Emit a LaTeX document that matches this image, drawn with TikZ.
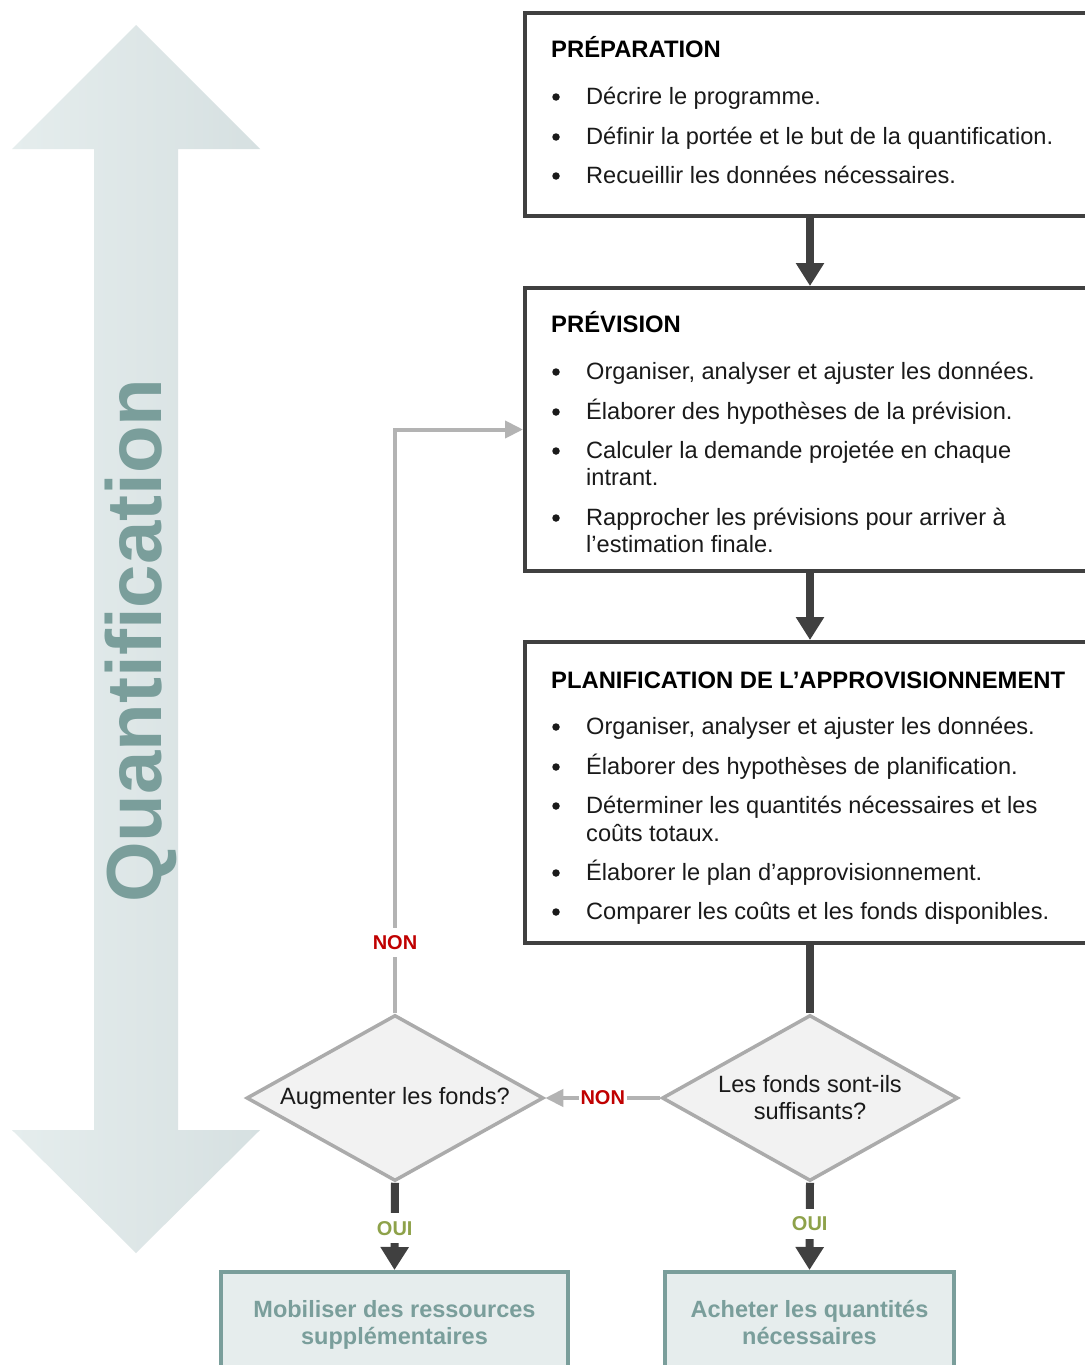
\documentclass[tikz,border=0pt]{standalone}
\usepackage{fontspec}
\setmainfont{Liberation Sans}
\usetikzlibrary{arrows.meta,shapes.geometric}
\definecolor{boxline}{HTML}{404040}
\definecolor{teal1}{HTML}{7A9E9B}
\definecolor{tealfill}{HTML}{E6EDED}
\definecolor{arrowL}{HTML}{E5EDED}
\definecolor{arrowR}{HTML}{D6E0E1}
\definecolor{grayln}{HTML}{B3B3B3}
\definecolor{dmdline}{HTML}{ABABAB}
\definecolor{dmdfill}{HTML}{F2F2F2}
\definecolor{nonred}{HTML}{C00000}
\definecolor{ouigreen}{HTML}{8EA24A}
\definecolor{txt}{HTML}{1A1A1A}
\newcommand\bitem[3]{\node[bul] (#1b) at (556,#2-7.5) {}; \node[itemtxt] (#1) at (586,#2) {#3};}
\begin{document}
\begin{tikzpicture}[x=1pt,y=-1pt,
  stepbox/.style={draw=boxline, line width=4pt, rectangle, inner sep=0pt, minimum width=570pt},
  titletxt/.style={anchor=base west, inner sep=0pt, font=\fontsize{23.8}{27}\selectfont\bfseries, text=black},
  itemtxt/.style={anchor=base west, inner sep=0pt, font=\fontsize{23.6}{27}\selectfont, text=txt},
  bul/.style={circle, fill=txt, minimum size=7.5pt, inner sep=0pt},
  decision/.style={diamond, shape aspect=1.79, draw=dmdline, fill=dmdfill, line width=3.5pt, minimum width=297pt, minimum height=166pt, inner sep=0pt, align=center, font=\fontsize{23.6}{27}\selectfont, text=txt},
  outbox/.style={rectangle, draw=teal1, fill=tealfill, line width=4pt, inner sep=0pt, align=center, font=\fontsize{23.5}{27}\selectfont\bfseries, text=teal1},
  flow/.style={draw=boxline, line width=8pt, -{Triangle[length=23pt,width=27pt]}},
  flownoarrow/.style={draw=boxline, line width=8pt},
  backline/.style={draw=grayln, line width=4pt, -{Triangle[length=18pt,width=17pt]}},
  nonlbl/.style={fill=white, inner xsep=2pt, inner ysep=7pt, font=\fontsize{20}{24}\selectfont\bfseries, text=nonred},
  ouilbl/.style={fill=white, inner xsep=2pt, inner ysep=8pt, font=\fontsize{20}{24}\selectfont\bfseries, text=ouigreen}]
\fill[white] (0,0) rectangle (1084,1365);
\useasboundingbox (0,0) rectangle (1084,1365);

% big double arrow
\shade[left color=arrowL, right color=arrowR]
  (136,25) -- (260,149) -- (178,149) -- (178,1130) -- (260,1130) -- (136,1253)
  -- (12,1130) -- (94,1130) -- (94,149) -- (12,149) -- cycle;
\node[rotate=90, anchor=base west, inner sep=0pt, font=\fontsize{78}{80}\selectfont\bfseries, text=teal1] (quant) at (161,903) {Quantification};

% PREPARATION
\node[stepbox, minimum height=203pt] (prep) at (810,114.5) {};
\node[titletxt] (prepT) at (551,57) {PRÉPARATION};
\bitem{pa}{104.5}{Décrire le programme.}
\bitem{pb}{144.5}{Définir la portée et le but de la quantification.}
\bitem{pc}{183.5}{Recueillir les données nécessaires.}

% PREVISION
\node[stepbox, minimum height=283pt] (prev) at (810,429.5) {};
\node[titletxt] (prevT) at (551,332) {PRÉVISION};
\bitem{va}{379.5}{Organiser, analyser et ajuster les données.}
\bitem{vb}{419.5}{Élaborer des hypothèses de la prévision.}
\bitem{vc}{458.5}{Calculer la demande projetée en chaque}
\node[itemtxt] (vc2) at (586,485.5) {intrant.};
\bitem{vd}{525.5}{Rapprocher les prévisions pour arriver à}
\node[itemtxt] (vd2) at (586,552.5) {l’estimation finale.};

% PLANIFICATION
\node[stepbox, minimum height=301pt] (plan) at (810,792.5) {};
\node[titletxt] (planT) at (551,688) {PLANIFICATION DE L’APPROVISIONNEMENT};
\bitem{la}{734.5}{Organiser, analyser et ajuster les données.}
\bitem{lb}{774.5}{Élaborer des hypothèses de planification.}
\bitem{lc}{813.5}{Déterminer les quantités nécessaires et les}
\node[itemtxt] (lc2) at (586,841.5) {coûts totaux.};
\bitem{ld}{880.5}{Élaborer le plan d’approvisionnement.}
\bitem{le}{919.5}{Comparer les coûts et les fonds disponibles.}

% decisions
\node[decision] (aug) at (395,1098) {Augmenter les fonds?};
\node[decision, minimum width=296pt] (fonds) at (810,1098) {Les fonds sont-ils\\suffisants?};

% outcome boxes
\node[outbox, minimum width=347pt, minimum height=106pt] (mob) at (394.5,1325) {Mobiliser des ressources\\supplémentaires};
\node[outbox, minimum width=289pt, minimum height=106pt] (ach) at (809.5,1325) {Acheter les quantités\\nécessaires\vphantom{p}};

% connectors
\draw[flow] (prep.south) -- (prev.north);
\draw[flow] (prev.south) -- (plan.north);
\draw[flownoarrow] (plan.south) -- (fonds.north);
\draw[backline] (fonds.west) -- node[nonlbl] (non2) {NON} (aug.east);
\draw[backline] (aug.north) |- node[nonlbl, pos=0.0606] (non1) {NON} (prev.west);
\draw[flow] (aug.south) -- node[ouilbl, pos=0.52] (oui1) {OUI} (mob.north);
\draw[flow] (fonds.south) -- node[ouilbl, pos=0.47] (oui2) {OUI} (ach.north);
\end{tikzpicture}
\end{document}
